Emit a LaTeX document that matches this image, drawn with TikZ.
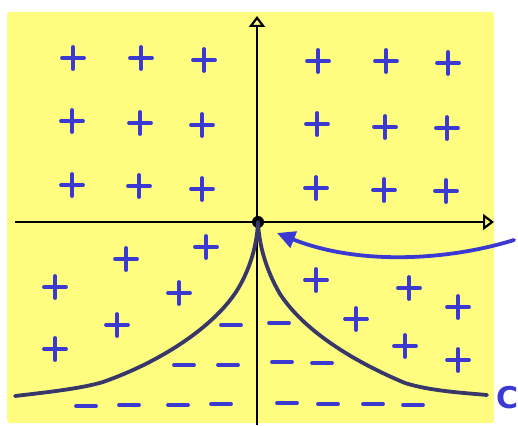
\documentclass[tikz,border=0pt]{standalone}
\usepackage{fontspec}
\setmainfont{DejaVu Sans}
\usetikzlibrary{arrows.meta}
\definecolor{bgyellow}{RGB}{255,253,128}
\definecolor{signblue}{RGB}{58,58,210}
\definecolor{curvenavy}{RGB}{55,55,105}
\tikzset{
  plussign/.style={signblue,line width=3.8pt,line cap=round},
  minussign/.style={signblue,line width=3.8pt,line cap=round},
  axisline/.style={black,line width=2.2pt,-{Triangle[open,length=11pt,width=16pt,line width=2.2pt]}},
  curveline/.style={curvenavy,line width=3.8pt,line cap=round},
  pointer/.style={signblue,line width=3.8pt,line cap=round,-{Triangle[length=18pt,width=17pt]}}
}
\begin{document}
\begin{tikzpicture}[x=1pt,y=-1pt]
\useasboundingbox (0,0) rectangle (518,425);
\fill[bgyellow,rounded corners=3pt] (7,12) rectangle (494,423);
% pluses
\foreach \px/\py in {73/58,141/58,204/60,318/61,386/61,448/63,
  72/121,140/123,202/125,317/124,385/127,447/128,
  72/185,139/186,202/189,316/188,384/190,446/191,
  206/247,126/259,55/287,179/293,117/325,55/349,
  316/280,409/288,458/307,356/319,405/346,458/360}
  {\draw[plussign] (\px-11,\py) -- (\px+11,\py) (\px,\py-11) -- (\px,\py+11);}
% minuses
\foreach \px/\py in {231/325,279/323,184/365,228/365,282/362,322/363,
  86/406,129/405,178/405,221/404,287/403,328/404,373/404,413/405}
  {\draw[minussign] (\px-10,\py) -- (\px+10,\py);}
% axes
\coordinate (xs) at (15,222);
\coordinate (xe) at (494,222);
\coordinate (ys) at (257,425);
\coordinate (ye) at (257,16);
\draw[axisline] (xs) -- (xe);
\draw[axisline] (ys) -- (ye);
\node[circle,fill=black,inner sep=0pt,minimum size=12pt] (o) at (258,222) {};
% curves
\coordinate (lend) at (15,396);
\coordinate (rend) at (487,395);
\draw[curveline] (o.center) .. controls (257,245) and (250,270) .. (236,292)
  .. controls (212,328) and (160,362) .. (103,382)
  .. controls (80,389) and (40,393) .. (lend);
\draw[curveline] (o.center) .. controls (259,245) and (266,270) .. (280,294)
  .. controls (305,332) and (355,362) .. (405,383)
  .. controls (430,391) and (465,393) .. (rend);
% pointer
\coordinate (ps) at (514,240);
\coordinate (pe) at (277,233);
\draw[pointer] (ps) .. controls (450,260) and (360,266) .. (pe);
\node[signblue,anchor=west,inner sep=0pt,font=\bfseries\fontsize{30}{30}\selectfont] (c) at (496,398) {C};
\end{tikzpicture}
\end{document}
